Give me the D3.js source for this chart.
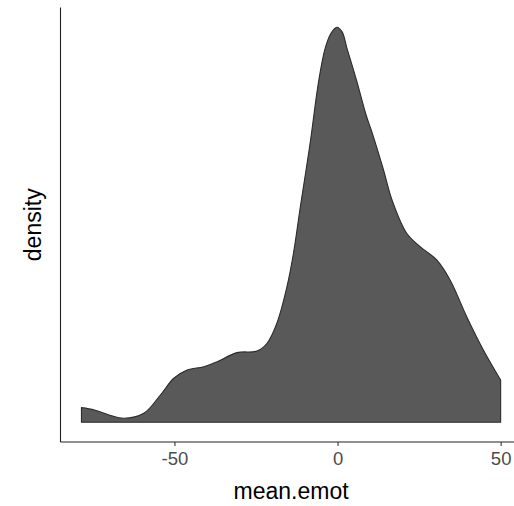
<!DOCTYPE html>
<html>
<head>
<meta charset="utf-8">
<script src="https://cdn.jsdelivr.net/npm/d3@7"></script>
<style>
  html, body { margin: 0; padding: 0; background: #fff; }
  svg { display: block; font-family: "Liberation Sans", Arial, sans-serif; }
</style>
</head>
<body>
<svg id="chart" width="514" height="506"></svg>
<script>
// Kernel density estimate of mean.emot (x value, estimated density)
const emotValues = [-78.5, -74.5, -70, -65.5, -59.4, -54.3, -50.2, -46.1, -41.0, -36.9, -30.8, -24.7,
  -21.6, -18.6, -15.5, -13.5, -11.4, -8.4, -5.8, -3.8, -2.0, -0.2, 1.4, 2.9, 5.9, 8.8, 10.6, 14.1, 16.7,
  21.2, 25.3, 30.4, 34.5, 39.6, 44.7, 50.0];
const densityValues = [0.00111, 0.00093, 0.00055, 0.0003, 0.00068, 0.00207, 0.00334, 0.00397, 0.00422,
  0.0046, 0.00529, 0.00541, 0.006, 0.00752, 0.0103, 0.01284, 0.01637, 0.0212, 0.0259, 0.0284,
  0.02955, 0.0300, 0.02965, 0.0284, 0.0259, 0.0233, 0.0220, 0.01916, 0.01688, 0.01435, 0.01334,
  0.01233, 0.01081, 0.00802, 0.00549, 0.00321];
const xTicks = [-50, 0, 50];
const xTitle = "mean.emot";
const yTitle = "density";

const points = emotValues.map((v, i) => ({ x: v, y: densityValues[i] }));

const svg = d3.select("#chart");
const panel = { left: 60.5, right: 521.6, top: 7.5, bottom: 442 };

// ggplot-style 5% expansion on both axes
const xExt = d3.extent(emotValues);
const xPad = (xExt[1] - xExt[0]) * 0.05;
const x = d3.scaleLinear().domain([xExt[0] - xPad, xExt[1] + xPad]).range([panel.left, panel.right]);
const yMax = d3.max(densityValues);
const y = d3.scaleLinear().domain([-yMax * 0.05, yMax * 1.05]).range([panel.bottom, panel.top]);

// density area, closed to the baseline
const curve = d3.curveCatmullRom.alpha(0.5);
const area = d3.area()
  .x(d => x(d.x))
  .y0(y(0))
  .y1(d => y(d.y))
  .curve(curve);

const outline = d3.line()
  .x(d => x(d.x))
  .y(d => y(d.y))
  .curve(curve);

svg.append("path")
  .datum(points)
  .attr("d", area)
  .attr("fill", "#595959");

// outline: top curve plus vertical ends and baseline
const first = points[0], last = points[points.length - 1];
svg.append("path")
  .attr("d", outline(points) +
    `L${x(last.x)},${y(0)}L${x(first.x)},${y(0)}Z`)
  .attr("fill", "none")
  .attr("stroke", "#2b2b2b")
  .attr("stroke-width", 1.1)
  .attr("stroke-linejoin", "round");

// x axis
const xAxis = svg.append("g")
  .attr("transform", `translate(0,${panel.bottom})`)
  .call(d3.axisBottom(x).tickValues(xTicks).tickSize(4).tickPadding(6).tickFormat(d3.format("d")));
xAxis.select(".domain").remove();
xAxis.selectAll(".tick line").attr("stroke", "#333").attr("stroke-width", 1.1);
xAxis.selectAll(".tick text")
  .attr("fill", "#4d4d4d")
  .attr("font-size", "18.5px")
  .attr("font-family", "Liberation Sans, Arial, sans-serif")
  .text(d => d < 0 ? "-" + Math.abs(d) : d);

svg.append("line")
  .attr("x1", panel.left).attr("x2", 514)
  .attr("y1", panel.bottom).attr("y2", panel.bottom)
  .attr("stroke", "#222").attr("stroke-width", 1.1);

svg.append("line")
  .attr("x1", panel.left).attr("x2", panel.left)
  .attr("y1", panel.top).attr("y2", panel.bottom)
  .attr("stroke", "#222").attr("stroke-width", 1.1);

// axis titles
svg.append("text")
  .attr("x", (panel.left + panel.right) / 2)
  .attr("y", 499)
  .attr("text-anchor", "middle")
  .attr("font-size", "23px")
  .attr("fill", "#000")
  .text(xTitle);

svg.append("text")
  .attr("transform", `translate(41,${(panel.top + panel.bottom) / 2}) rotate(-90)`)
  .attr("text-anchor", "middle")
  .attr("font-size", "23px")
  .attr("fill", "#000")
  .text(yTitle);
</script>
</body>
</html>
